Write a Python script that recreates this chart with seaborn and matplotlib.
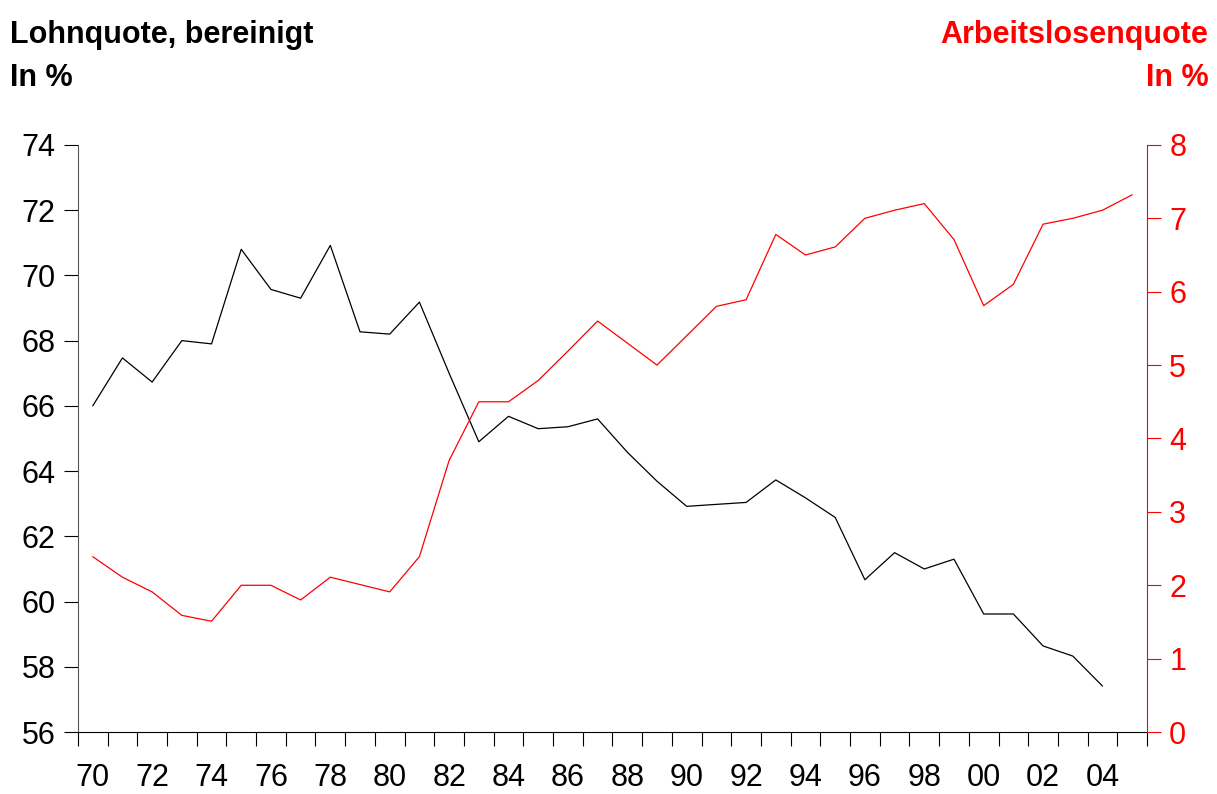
import matplotlib
matplotlib.use("Agg")
import matplotlib.pyplot as plt
import numpy as np
import pandas as pd
import seaborn as sns


OUT_PATH = "out.png"

years = list(range(1970, 2006))

# Lohnquote, bereinigt (left axis, %), 1970-2004
lohnquote = [66.0, 67.47, 66.73, 68.0, 67.9, 70.8, 69.57, 69.3, 70.92, 68.27,
             68.2, 69.18, 67.0, 64.9, 65.68, 65.3, 65.36, 65.6, 64.58, 63.69,
             62.92, 62.98, 63.04, 63.73, 63.18, 62.58, 60.67, 61.5, 61.0, 61.3,
             59.62, 59.62, 58.64, 58.33, 57.41]

# Arbeitslosenquote (right axis, %), 1970-2005
arbeitslosenquote = [2.39, 2.11, 1.91, 1.59, 1.51, 2.0, 2.0, 1.8, 2.11, 2.01,
                     1.91, 2.39, 3.7, 4.5, 4.5, 4.79, 5.19, 5.6, 5.3, 5.0,
                     5.4, 5.8, 5.89, 6.78, 6.5, 6.61, 7.0, 7.11, 7.2, 6.71,
                     5.81, 6.1, 6.92, 7.0, 7.11, 7.32]

left_ticks = [56, 58, 60, 62, 64, 66, 68, 70, 72, 74]
right_ticks = [0, 1, 2, 3, 4, 5, 6, 7, 8]
label_years = list(range(1970, 2006, 2))

df_lohn = pd.DataFrame({"Jahr": years[:len(lohnquote)], "Lohnquote": lohnquote})
df_alq = pd.DataFrame({"Jahr": years, "Arbeitslosenquote": arbeitslosenquote})

sns.set_style("white")
plt.rcParams["font.family"] = ["Liberation Sans Narrow", "Liberation Sans", "DejaVu Sans"]
plt.rcParams["text.color"] = "black"
plt.rcParams["xtick.color"] = "black"
plt.rcParams["ytick.color"] = "black"

RED = "#ff0000"

fig = plt.figure(figsize=(12.17, 7.94), dpi=100)
ax = fig.add_axes([0.064, 0.078, 0.8785, 0.7395])
ax2 = ax.twinx()

sns.lineplot(data=df_lohn, x="Jahr", y="Lohnquote", ax=ax, color="black", linewidth=0.9)
sns.lineplot(data=df_alq, x="Jahr", y="Arbeitslosenquote", ax=ax2, color=RED, linewidth=0.9)

ax.set_xlim(1969.5, 2005.5)
ax.set_ylim(56, 74)
ax2.set_ylim(0, 8)

ax.set_yticks(left_ticks)
ax.set_yticklabels([str(t) for t in left_ticks], fontsize=22, color="black")
ax2.set_yticks(right_ticks)
ax2.set_yticklabels([str(t) for t in right_ticks], fontsize=22, color=RED)

# year labels at even years, tick marks at category boundaries
ax.set_xticks(label_years)
ax.set_xticklabels([f"{y % 100:02d}" for y in label_years], fontsize=22, color="black")
ax.set_xticks(np.arange(1969.5, 2006, 1.0), minor=True)
ax.tick_params(axis="x", which="major", bottom=True, length=0, pad=22)
ax.tick_params(axis="x", which="minor", bottom=True, length=10, width=0.8,
               color="black", direction="out")
ax.tick_params(axis="y", left=True, length=10, width=0.8, color="black",
               direction="out", pad=6)
ax2.tick_params(axis="y", right=True, length=10, width=0.8, color=RED,
                direction="out", pad=6)

for a in (ax, ax2):
    a.set_xlabel("")
    a.set_ylabel("")
    a.grid(False)
    a.spines["top"].set_visible(False)

ax.spines["left"].set_color("#555555")
ax.spines["left"].set_linewidth(0.8)
ax.spines["bottom"].set_color("black")
ax.spines["bottom"].set_linewidth(0.8)
ax.spines["right"].set_visible(False)
ax2.spines["left"].set_visible(False)
ax2.spines["bottom"].set_visible(False)
ax2.spines["right"].set_color(RED)
ax2.spines["right"].set_linewidth(0.8)

fig.text(0.008, 0.975, "Lohnquote, bereinigt\nIn %", ha="left", va="top",
         fontsize=22, fontweight="bold", linespacing=1.55, color="black")
fig.text(0.993, 0.975, "Arbeitslosenquote\nIn %", ha="right", va="top",
         fontsize=22, fontweight="bold", color=RED, linespacing=1.55,
         multialignment="right")

fig.savefig(OUT_PATH, dpi=100)
